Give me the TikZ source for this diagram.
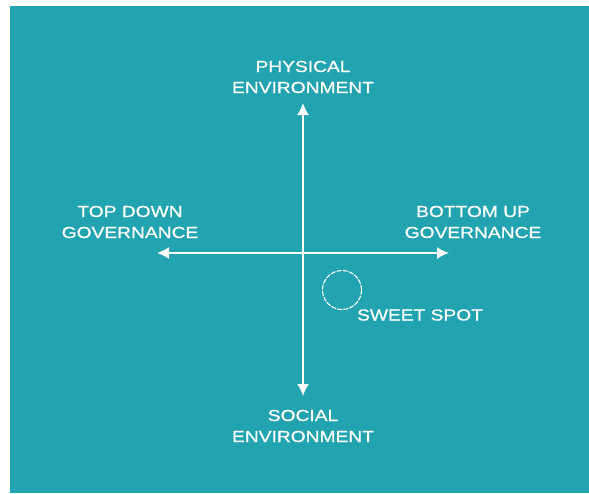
\documentclass[tikz,border=0pt]{standalone}
\usepackage{fontspec}
\newfontfamily\axisfont[FakeStretch=1.2,FakeBold=0.7]{Liberation Sans}
\usetikzlibrary{arrows.meta,positioning}
\definecolor{bgteal}{HTML}{22A3B0}
\tikzset{
    axislabel/.style = {text=white, align=center, inner sep=0pt,
        font=\axisfont\fontsize{16}{21}\selectfont},
    axisarrow/.style = {draw=white, line width=1.7pt,
        {Latex[length=12pt,width=12pt]}-{Latex[length=12pt,width=12pt]}},
    spot/.style = {draw=white, circle, line width=1.1pt, dash pattern=on 5pt off 1.2pt,
        minimum size=39pt, inner sep=0pt}
}

\begin{document}
\begin{tikzpicture}[x=1pt,y=-1pt]
        \useasboundingbox (0,0) rectangle (589,493);
        \fill[white] (0,0) rectangle (589,493);
        \fill[bgteal] (10,6) rectangle (589,493);
        % axes
        \coordinate (top) at (303,103);
        \coordinate (bottom) at (303,396);
        \coordinate (left) at (157,253);
        \coordinate (right) at (449,253);
        \draw[axisarrow] (top) -- (bottom);
        \draw[axisarrow] (left) -- (right);
        % labels
        \node [axislabel] (physical) at (303,77) {PHYSICAL\\ENVIRONMENT};
        \node [axislabel] (social) at (303,426) {SOCIAL\\ENVIRONMENT};
        \node [axislabel] (topdown) at (130,222) {TOP DOWN\\GOVERNANCE};
        \node [axislabel] (bottomup) at (473,222) {BOTTOM UP\\GOVERNANCE};
        % sweet spot
        \node [spot] (spot) at (342,290) {};
        \node [axislabel] (sweet) at (420,315) {SWEET SPOT};
    \end{tikzpicture}
\end{document}
